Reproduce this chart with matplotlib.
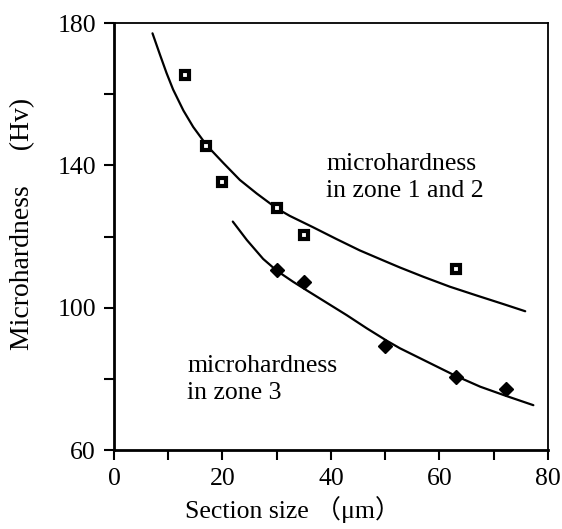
import matplotlib.pyplot as plt

# measured points
sq_x = [13, 17, 20, 30, 35, 63]
sq_y = [165.5, 145.3, 135.3, 128, 120.4, 110.8]
dia_x = [30, 35, 50, 63, 72.3]
dia_y = [110.6, 107.2, 89.2, 80.5, 77.1]

# fitted curves as drawn in the figure
fit1_x = [7.1, 8.5, 9.7, 10.9, 12.8, 14.6, 17.1, 20.2, 23.2, 26.3, 30.0, 32.4,
          36.7, 41.0, 45.3, 49.6, 52.7, 57.0, 61.9, 66.9, 71.8, 75.8]
fit1_y = [177.1, 171.0, 165.9, 161.3, 155.4, 150.8, 145.6, 140.6, 135.9, 132.1, 127.9, 125.8,
          122.6, 119.3, 116.1, 113.3, 111.3, 108.7, 105.9, 103.4, 101.0, 99.0]
fit2_x = [21.9, 24.5, 27.5, 30.0, 33.0, 35.5, 39.2, 42.9, 46.6, 50.3, 52.7,
          57.6, 62.9, 67.5, 72.1, 77.3]
fit2_y = [124.2, 119.0, 113.7, 110.4, 107.3, 104.9, 101.4, 97.9, 94.2, 90.7, 88.6,
          84.9, 80.9, 77.8, 75.3, 72.6]

plt.rcParams['font.family'] = ['Liberation Serif', 'Noto Sans CJK JP']

fig = plt.figure(figsize=(5.62, 5.29), dpi=100)
ax = fig.add_axes([0.2028, 0.1493, 0.7723, 0.8072])

ax.plot(fit1_x, fit1_y, color="black", lw=1.6, solid_capstyle="round", solid_joinstyle="round")
ax.plot(fit2_x, fit2_y, color="black", lw=1.6, solid_capstyle="round", solid_joinstyle="round")
ax.plot(sq_x, sq_y, ls="none", marker="s", ms=5.5, mfc="white", mec="black", mew=3)
ax.plot(dia_x, dia_y, ls="none", marker="D", ms=7.5, color="black")

ax.text(39.1, 143.5, "microhardness\nin zone 1 and 2", fontsize=18.5, va="top", linespacing=1.3)
ax.text(13.5, 86.7, "microhardness\nin zone 3", fontsize=18.5, va="top", linespacing=1.3)

ax.set_xlim(0, 80)
ax.set_ylim(60, 180)
ax.set_xticks([0, 20, 40, 60, 80])
ax.set_xticks([10, 30, 50, 70], minor=True)
ax.set_yticks([60, 100, 140, 180])
ax.set_yticks([80, 120, 160], minor=True)
ax.tick_params(which="both", direction="out", length=7, width=1.5, labelsize=18.5, pad=6,
               top=False, right=False)

for s in ["left", "bottom"]:
    ax.spines[s].set_linewidth(2.0)
for s in ["top", "right"]:
    ax.spines[s].set_linewidth(1.3)

fig.text(23 / 562, 1 - 224 / 529, "Microhardness     (Hv)", rotation=90, fontsize=20,
         ha="center", va="center")
fig.text(293 / 562, 1 - 518 / 529, "Section size \uff08\u03bcm\uff09", fontsize=18.5,
         ha="center", va="baseline")

fig.savefig("out.png", dpi=100)
